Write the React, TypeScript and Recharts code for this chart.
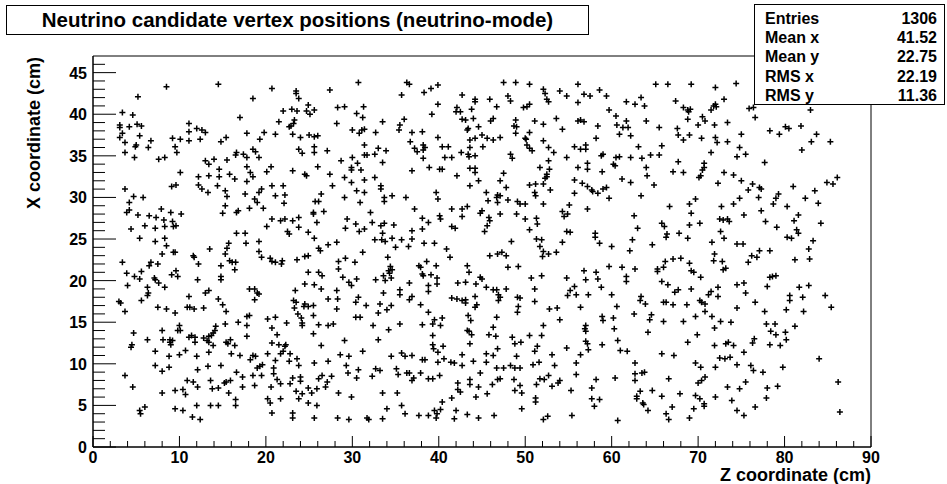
import React from 'react';
import { ScatterChart, Scatter, XAxis, YAxis, ReferenceArea } from 'recharts';

type Pt = [number, number];

// vertex positions as [z, x] in cm, grouped by region of the detector
const topZ0: Pt[] = [
  [8.5,43.3],[14.5,43.6],[20.7,43.1],[5.2,42.1],[18.5,41.9],[3.4,40.2],[4.6,39.9],[22.0,40.4],[17.0,39.6],[21.5,39.1],
  [3.1,38.7],[3.1,38.4],[4.2,38.5],[5.1,38.8],[5.6,38.6],[11.1,38.9],[11.1,37.9],[12.0,38.3],[12.6,38.1],[13.0,37.8],
  [17.8,37.7],[19.8,37.8],[21.1,37.6],[3.4,37.7],[3.1,37.2],[5.4,37.4],[9.2,37.1],[10.1,37.0],[11.1,36.8],[12.4,37.0],
  [14.8,36.7],[15.4,37.2],[19.3,37.0],[3.7,36.6],[6.7,36.8],[5.0,36.3],[4.9,36.1],[6.4,36.0],[9.5,36.1],[9.7,35.4],
  [3.7,35.4],[4.8,34.8],[7.6,34.6],[8.3,34.8],[16.6,35.4],[16.5,35.1],[17.4,35.2],[17.8,34.8],[18.5,35.8],[18.8,35.5],
  [19.2,34.8],[13.0,34.4],[13.4,34.0],[14.0,34.6],[15.5,34.5],[10.1,33.0],[14.6,33.4],[17.8,33.7],[18.2,33.0],[20.1,33.1],
  [20.6,33.7],[12.2,32.5],[13.4,32.6],[14.6,32.5],[15.8,32.8],[16.4,32.2],[17.8,31.9],[18.5,32.5],[3.7,31.0],[9.1,31.3],
  [9.6,31.5],[12.2,31.5],[12.6,31.0],[13.3,30.6],[14.4,31.4],[15.3,30.8],[19.5,31.0],[19.2,30.6],[20.7,31.4],[22.0,31.4],
  [4.7,30.1],[5.8,30.0],[15.5,30.1],[17.6,30.4],[18.7,29.8],[19.0,29.4],[21.1,30.2],[22.2,30.3],[4.2,29.4],[4.2,28.5],
  [3.9,28.2],[7.9,28.6],[9.0,28.2],[10.2,28.0],[6.5,27.8],[5.2,27.9],[7.3,27.6],[8.2,27.3],[9.2,27.1],[9.3,26.5],
  [9.6,26.6],[8.3,26.5],[15.0,28.1],[15.3,29.0],[16.6,28.2],[16.8,28.4],[18.1,28.7],[19.7,28.7],[22.1,29.3],[4.4,26.2],
  [6.0,26.6],[7.2,26.3],[20.7,27.4],[21.7,27.2],[22.2,27.4],[20.1,26.5],[16.6,25.7],[17.6,25.7],
];

const topZ22: Pt[] = [
  [30.7,43.8],[36.3,43.8],[36.6,43.6],[39.9,43.5],[39.1,43.1],[38.3,42.6],[35.7,42.3],[42.7,42.3],[23.5,42.8],[23.5,42.5],
  [23.8,41.9],[27.4,42.9],[44.2,41.8],[44.2,41.5],[24.9,41.1],[23.0,40.6],[23.6,40.4],[24.7,40.4],[25.1,40.0],[25.6,40.5],
  [28.3,40.8],[29.1,40.9],[31.3,40.9],[30.5,40.1],[31.2,39.6],[42.1,40.8],[42.0,40.3],[42.5,40.3],[43.8,40.6],[44.0,39.5],
  [42.7,39.4],[43.1,39.3],[39.9,41.2],[39.2,40.0],[23.3,39.3],[23.2,38.9],[22.7,38.5],[22.9,38.6],[28.2,38.9],[33.5,39.1],
  [36.0,39.4],[35.5,38.7],[35.4,38.1],[30.0,38.1],[30.8,37.7],[31.1,38.1],[31.4,38.2],[32.7,37.8],[44.6,38.5],[43.4,38.3],
  [43.3,38.1],[23.1,37.6],[24.0,37.2],[25.0,37.5],[25.6,37.3],[26.0,37.4],[36.9,37.8],[38.1,37.9],[36.7,36.7],[39.9,37.2],
  [43.6,36.9],[44.2,37.1],[23.8,35.8],[24.2,35.3],[25.6,36.1],[25.6,35.4],[27.1,35.6],[31.4,36.3],[31.4,35.1],[31.7,35.1],
  [32.6,35.2],[33.0,35.9],[33.9,35.6],[37.2,35.9],[37.5,35.5],[38.2,36.3],[38.4,36.0],[38.2,35.7],[38.2,34.7],[40.4,36.1],
  [41.1,36.1],[43.6,36.0],[40.7,34.8],[41.5,34.8],[42.6,35.4],[43.4,35.2],[43.5,34.9],[44.2,35.0],[28.7,34.4],[30.0,34.8],
  [30.6,34.1],[29.9,33.6],[29.9,33.3],[31.0,33.3],[33.5,34.2],[23.1,33.2],[24.5,32.8],[24.7,32.6],[26.0,33.7],[36.9,33.2],
  [38.9,33.6],[40.1,33.4],[40.4,33.4],[43.6,33.5],[44.2,33.5],[44.2,33.0],[42.1,32.6],[27.4,32.8],[29.1,32.4],[29.9,31.8],
  [31.4,32.1],[32.6,32.4],[30.5,30.8],[31.4,30.6],[33.3,31.4],[33.3,31.0],[27.7,31.4],[43.6,31.4],[44.6,32.0],[29.1,30.0],
  [33.7,30.0],[33.7,29.5],[34.6,30.2],[36.2,30.0],[39.7,30.6],[39.9,29.8],[25.7,29.5],[26.1,29.5],[26.4,30.4],[30.9,29.4],
  [25.5,28.2],[25.5,28.0],[26.7,28.3],[23.8,27.6],[23.1,27.2],[32.1,28.2],[37.2,28.6],[41.5,28.6],[42.7,28.6],[43.3,28.9],
  [42.7,27.7],[44.8,28.1],[25.9,27.0],[29.4,27.4],[30.4,26.8],[31.4,26.2],[30.8,25.9],[29.2,26.3],[32.3,27.0],[33.3,26.6],
  [33.7,26.9],[34.8,26.7],[38.1,27.5],[38.8,27.0],[40.1,27.8],[40.2,27.4],[41.5,26.5],[41.9,26.3],[23.8,26.4],[22.5,25.9],
  [22.7,25.6],[24.9,25.8],[33.5,25.7],[36.9,26.0],[38.1,26.2],
];

const topZ45: Pt[] = [
  [47.5,43.8],[48.9,43.8],[50.5,43.6],[56.1,43.6],[65.1,43.6],[66.5,43.6],[52.1,43.0],[54.0,42.8],[58.6,42.9],[45.9,41.8],
  [48.0,42.2],[48.3,41.6],[52.3,42.5],[52.5,41.8],[52.7,41.5],[54.8,42.2],[56.8,42.4],[57.5,42.2],[59.4,42.2],[56.1,41.4],
  [61.7,41.5],[62.7,41.2],[63.4,42.0],[63.8,41.0],[67.4,41.6],[46.7,40.9],[49.8,40.8],[50.2,40.9],[50.5,41.2],[59.7,40.5],
  [46.3,39.5],[46.0,39.2],[48.9,39.3],[48.7,38.6],[49.0,38.5],[48.9,37.7],[51.1,39.2],[52.1,38.8],[53.6,39.5],[56.1,39.2],
  [56.4,39.3],[56.8,39.1],[54.3,38.2],[58.4,38.6],[60.5,39.8],[61.7,39.2],[60.6,38.7],[61.3,38.4],[61.9,38.4],[64.0,39.2],
  [65.5,38.4],[45.0,37.5],[45.6,37.1],[46.3,36.9],[47.1,37.2],[50.5,37.8],[50.0,37.1],[50.1,37.0],[52.1,36.8],[60.9,37.6],
  [62.2,37.4],[58.2,37.1],[45.1,36.1],[50.2,36.3],[50.5,35.9],[50.8,35.6],[52.7,36.0],[53.3,35.4],[55.7,36.1],[56.4,35.8],
  [57.0,36.3],[57.0,35.8],[63.1,36.1],[65.8,36.2],[48.3,35.2],[48.5,34.7],[54.8,34.8],[58.8,35.0],[59.0,35.2],[60.5,34.8],
  [60.9,34.9],[62.2,34.8],[63.5,34.7],[64.5,35.1],[65.5,35.1],[52.7,34.4],[51.7,33.6],[52.8,33.4],[52.5,32.8],[52.5,32.5],
  [52.3,32.3],[56.1,33.6],[57.2,34.1],[57.2,33.4],[58.9,33.1],[60.2,34.0],[60.4,33.8],[64.0,33.6],[64.1,32.6],[67.1,33.1],
  [47.5,32.9],[47.1,32.0],[47.8,31.2],[45.5,30.6],[46.8,30.3],[46.7,30.0],[47.1,30.2],[45.7,29.6],[46.8,29.4],[48.0,29.7],
  [50.5,31.5],[51.2,31.6],[51.1,30.6],[51.2,30.2],[52.1,31.6],[52.9,30.9],[55.7,32.1],[56.6,31.7],[57.2,31.3],[57.7,30.9],
  [57.8,30.7],[58.4,30.5],[59.0,31.0],[59.4,31.2],[59.7,29.9],[61.2,32.2],[62.2,31.8],[64.9,31.5],[63.4,30.2],[55.7,30.5],
  [45.0,28.4],[45.8,27.6],[45.9,27.2],[45.6,26.6],[45.3,25.9],[47.1,28.0],[49.0,28.0],[49.1,29.5],[49.4,29.2],[50.0,29.2],
  [52.1,29.2],[50.0,27.4],[51.3,27.5],[51.4,26.8],[50.5,26.1],[54.3,28.3],[54.5,27.7],[54.9,28.0],[55.1,29.1],[57.2,28.6],
  [54.8,25.9],[55.2,25.8],[58.1,25.7],[62.6,27.8],[63.0,26.3],[65.8,26.9],[66.1,26.5],[66.7,28.9],[66.4,25.6],
];

const topZ67: Pt[] = [
  [69.2,43.6],[72.0,43.2],[74.4,43.7],[68.3,40.8],[68.8,40.5],[68.9,40.3],[69.1,40.6],[68.8,39.4],[70.5,39.7],[70.8,39.2],
  [70.0,38.7],[71.5,40.5],[71.8,41.0],[72.0,41.2],[72.1,40.9],[73.0,41.8],[75.9,40.7],[76.4,40.8],[76.6,39.6],[73.4,39.0],
  [71.9,38.7],[83.0,40.5],[67.6,38.3],[67.7,37.5],[68.3,36.9],[69.0,37.5],[70.4,37.1],[72.0,37.2],[72.2,36.6],[73.4,36.7],
  [75.0,37.6],[78.3,38.0],[79.4,37.6],[80.1,38.5],[80.5,38.3],[81.9,38.6],[83.7,37.6],[83.1,36.7],[85.3,36.7],[82.0,35.7],
  [74.8,36.0],[75.5,35.2],[74.5,34.9],[71.5,35.4],[77.7,34.2],[67.7,34.3],[70.7,34.1],[70.7,33.6],[70.5,33.3],[70.1,32.4],
  [70.3,32.6],[68.3,33.0],[73.0,33.0],[74.1,32.7],[75.0,32.0],[72.3,31.7],[76.3,31.6],[75.8,30.9],[77.1,31.2],[77.3,31.0],
  [77.0,30.0],[81.0,31.3],[84.9,31.8],[85.6,31.6],[86.1,32.4],[83.5,30.8],[82.4,29.9],[79.0,29.9],[79.3,30.4],[78.7,29.2],
  [80.3,28.9],[83.9,29.3],[81.6,27.9],[81.1,27.2],[84.2,26.9],[81.4,26.1],[81.6,25.7],[69.0,29.2],[69.7,29.8],[69.2,28.1],
  [69.0,26.7],[70.2,26.9],[72.7,28.9],[74.1,29.2],[74.8,29.9],[75.3,27.9],[77.3,28.4],[72.5,27.4],[72.9,27.3],[73.4,27.4],
  [73.6,27.1],[77.8,27.1],[79.1,26.4],[72.6,25.9],[67.8,25.7],
];

const botZ0: Pt[] = [
  [5.4,25.1],[7.2,24.7],[8.3,25.1],[15.7,24.5],[17.7,24.5],[19.2,24.7],[3.4,22.2],[6.5,21.8],[6.7,22.2],[7.5,22.0],
  [8.0,23.2],[8.5,24.2],[9.3,23.4],[9.5,23.4],[11.6,23.0],[11.7,22.8],[12.2,22.0],[13.5,23.8],[15.3,23.2],[15.5,23.9],
  [15.8,22.4],[16.1,22.2],[16.5,22.2],[16.4,21.3],[19.2,23.5],[19.5,22.8],[20.5,22.7],[20.7,22.3],[21.1,22.2],[21.9,22.4],
  [21.8,22.0],[3.9,20.9],[4.8,20.5],[5.4,20.2],[5.6,21.1],[7.1,20.3],[7.2,20.1],[7.6,19.7],[8.3,19.2],[9.1,20.7],
  [9.6,21.2],[9.8,20.5],[12.1,20.1],[14.8,21.8],[14.8,20.5],[14.8,20.1],[4.0,19.4],[6.3,19.2],[6.4,18.5],[6.3,18.2],
  [5.6,17.6],[7.5,16.8],[8.5,16.6],[9.5,16.1],[11.1,18.1],[10.9,16.8],[11.2,16.8],[11.7,16.6],[12.8,16.7],[13.0,18.5],
  [13.4,18.8],[14.5,17.8],[15.0,17.1],[15.4,16.3],[18.1,19.0],[18.7,19.0],[19.0,18.5],[19.2,18.4],[18.7,17.7],[3.0,17.5],
  [3.2,17.3],[3.7,16.3],[4.7,13.7],[4.5,12.3],[4.4,12.0],[6.3,12.9],[8.0,14.0],[8.1,12.9],[8.9,12.9],[8.9,12.6],
  [9.0,12.3],[9.2,12.8],[9.8,14.0],[10.1,14.0],[10.0,14.6],[11.1,13.2],[11.4,13.4],[11.8,13.2],[11.8,12.6],[12.8,13.1],
  [13.2,12.8],[13.4,13.3],[13.4,12.6],[13.7,13.4],[13.9,13.7],[14.1,14.0],[14.2,14.5],[13.9,12.2],[15.3,14.8],[16.8,15.0],
  [17.8,14.6],[17.8,13.3],[17.8,15.7],[18.1,15.8],[20.2,15.4],[20.7,14.3],[21.1,15.6],[21.3,13.5],[15.4,12.6],[15.6,12.4],
  [15.9,12.9],[16.4,12.2],[7.2,11.5],[8.8,10.9],[10.0,11.1],[10.7,11.6],[12.0,10.9],[13.4,11.4],[16.0,11.2],[17.0,11.0],
  [18.2,10.5],[18.5,11.0],[18.8,10.9],[19.0,9.5],[19.3,9.7],[19.6,9.9],[20.2,11.2],[20.7,12.5],[21.1,10.4],[21.5,12.3],
  [22.0,11.5],[22.2,12.1],[21.7,11.2],[3.7,8.6],[7.2,9.8],[8.0,9.1],[8.8,9.6],[12.1,9.3],[13.3,9.7],[14.8,9.8],
  [16.6,9.0],[17.3,8.4],[18.5,8.6],[19.5,8.6],[20.9,9.5],[20.9,8.8],[21.3,8.1],[21.7,7.6],[4.6,7.2],[8.0,6.5],
  [9.5,6.8],[10.4,6.9],[10.7,6.3],[10.9,8.0],[11.6,7.8],[12.1,7.2],[13.6,8.0],[13.8,7.0],[14.5,7.1],[15.2,7.7],
  [15.4,7.8],[15.9,8.0],[15.7,6.5],[16.5,5.7],[16.5,5.0],[17.3,7.2],[18.7,7.4],[20.2,5.8],[20.5,5.3],[20.7,4.1],
  [21.7,5.8],[20.6,7.2],[5.4,4.4],[5.5,4.0],[6.0,4.8],[9.5,4.6],[10.4,4.4],[12.0,5.0],[13.6,5.0],[14.5,5.0],
  [11.5,3.6],[12.4,3.3],
];

const botZ22: Pt[] = [
  [25.6,25.1],[27.2,24.3],[28.2,24.6],[26.1,23.9],[26.3,23.6],[32.6,24.9],[33.4,24.9],[33.8,24.7],[34.6,25.1],[35.7,24.9],
  [36.9,25.0],[38.3,24.5],[39.5,24.5],[35.0,24.0],[36.5,24.1],[31.2,23.4],[40.9,23.8],[41.3,22.8],[23.6,22.5],[24.5,22.9],
  [24.9,23.0],[28.4,22.3],[28.4,21.4],[29.2,22.7],[30.3,22.2],[34.1,22.8],[34.4,21.7],[34.6,21.3],[34.2,21.2],[34.3,20.9],
  [33.6,20.6],[34.5,20.3],[32.7,20.1],[33.8,20.0],[37.7,21.8],[37.9,21.6],[38.6,22.3],[38.1,20.8],[38.2,20.6],[39.1,20.7],
  [39.7,21.8],[39.8,20.3],[39.8,19.6],[38.8,19.4],[38.8,18.7],[43.3,21.8],[43.5,21.0],[43.1,19.8],[42.2,19.7],[44.3,19.6],
  [44.8,20.4],[24.9,21.0],[26.1,21.0],[26.5,20.6],[24.5,19.6],[25.6,19.5],[26.4,19.0],[28.9,20.4],[29.6,19.8],[29.9,19.4],
  [30.5,20.2],[23.4,18.8],[28.2,18.8],[33.6,18.5],[35.5,18.9],[35.5,18.3],[36.6,19.7],[36.9,18.1],[36.6,17.7],[30.7,18.0],
  [30.4,17.4],[31.6,17.0],[33.2,17.2],[27.2,17.8],[28.3,17.8],[28.2,16.6],[25.5,17.0],[24.9,16.9],[24.5,17.2],[24.4,16.9],
  [23.2,17.6],[23.5,17.4],[23.3,16.7],[34.5,17.0],[34.0,16.5],[33.0,16.1],[30.4,15.6],[30.9,15.6],[37.9,17.1],[38.8,16.2],
  [41.5,17.9],[42.1,17.8],[42.7,17.6],[43.1,17.3],[43.1,17.7],[44.2,18.1],[44.4,17.1],[44.2,16.8],[23.7,16.0],[24.1,15.5],
  [24.2,14.9],[24.2,14.6],[25.5,15.8],[26.1,14.7],[27.2,14.6],[27.8,14.8],[22.4,14.9],[25.5,13.6],[32.4,14.6],[34.2,14.1],
  [35.5,14.8],[38.1,14.7],[39.3,14.8],[39.5,15.3],[40.4,15.5],[40.2,14.6],[39.3,13.4],[43.4,15.8],[43.7,15.2],[43.3,14.0],
  [43.5,13.9],[43.8,13.5],[43.6,12.4],[22.3,12.3],[22.8,11.2],[23.6,10.6],[23.8,9.8],[22.7,10.3],[26.4,12.2],[29.1,12.8],
  [33.0,12.9],[31.2,11.5],[28.6,11.1],[29.6,10.9],[29.3,9.8],[30.7,9.3],[29.5,8.9],[30.5,8.3],[32.3,8.5],[32.7,9.4],
  [33.2,9.2],[25.6,10.1],[27.2,10.3],[34.5,10.9],[35.7,11.3],[36.1,10.9],[36.9,11.0],[35.1,9.4],[35.3,8.7],[36.3,8.9],
  [36.6,8.9],[37.1,8.3],[36.9,8.0],[37.9,8.9],[38.1,10.5],[38.4,10.5],[38.8,8.2],[39.3,8.2],[39.3,12.3],[39.4,11.8],
  [40.5,12.1],[39.9,11.4],[39.9,10.2],[40.1,8.6],[40.6,10.6],[41.4,10.2],[41.8,10.1],[42.7,9.8],[42.7,11.1],[44.0,10.3],
  [44.8,8.9],[23.1,8.3],[24.0,8.4],[24.0,7.9],[22.8,7.6],[26.1,8.2],[26.5,8.6],[27.1,7.8],[26.9,7.2],[27.6,8.5],
  [24.9,7.1],[25.9,7.0],[23.5,6.7],[24.2,6.4],[23.8,5.8],[24.9,5.3],[25.9,5.0],[25.3,6.5],[28.4,6.5],[29.9,6.0],
  [33.5,6.5],[35.2,6.5],[35.7,5.0],[34.0,4.6],[36.1,4.0],[37.7,3.8],[38.8,3.8],[39.5,4.4],[39.8,4.0],[40.2,4.5],
  [40.4,5.4],[41.5,5.9],[42.2,6.9],[42.5,6.6],[42.2,7.7],[43.6,8.1],[43.6,7.5],[44.6,7.2],[44.3,6.0],[42.0,4.4],
  [43.3,3.9],[44.6,3.5],[41.8,3.4],[39.7,3.5],[23.1,4.1],[23.1,3.5],[25.6,3.5],[28.3,3.5],[29.6,3.3],[31.7,3.5],
  [31.9,3.3],[33.5,3.4],
];

const botZ45: Pt[] = [
  [48.4,24.7],[51.3,25.0],[51.9,24.9],[54.3,24.6],[58.1,25.2],[58.6,24.5],[60.0,24.1],[62.4,24.9],[62.1,23.6],[64.7,24.3],
  [66.3,25.2],[51.7,24.1],[52.1,23.5],[52.0,22.9],[52.7,23.2],[53.6,23.4],[45.9,23.0],[46.8,23.2],[47.3,23.4],[47.8,23.0],
  [48.0,21.6],[49.2,21.7],[50.7,20.3],[51.9,20.6],[51.1,19.0],[51.1,17.5],[54.8,20.3],[55.2,18.8],[55.7,19.3],[54.9,18.2],
  [55.9,18.3],[57.3,18.3],[56.8,21.2],[57.0,20.1],[58.2,21.0],[58.4,20.2],[58.8,19.2],[59.7,21.7],[61.2,21.6],[61.7,20.5],
  [61.7,19.9],[62.7,21.4],[65.3,21.4],[65.3,21.1],[66.0,21.6],[66.2,22.3],[67.1,22.6],[65.8,19.9],[66.5,19.5],[67.3,18.6],
  [60.0,18.3],[60.6,16.9],[63.4,18.1],[63.3,17.6],[63.9,17.2],[62.6,16.0],[64.6,15.9],[64.4,15.3],[66.0,17.4],[66.3,17.4],
  [67.1,17.1],[66.0,15.1],[45.0,20.2],[45.5,19.2],[46.3,18.9],[46.7,18.9],[46.9,18.3],[46.9,17.6],[47.1,18.0],[47.8,19.0],
  [49.1,18.0],[49.4,17.9],[49.2,16.9],[49.1,16.2],[52.8,16.6],[53.7,16.7],[54.0,15.3],[56.4,16.8],[58.9,15.7],[59.0,15.2],
  [60.2,15.5],[46.7,15.6],[46.3,14.4],[45.8,13.5],[46.6,13.3],[48.5,13.2],[48.8,12.4],[49.5,12.6],[50.5,13.4],[51.9,13.4],
  [52.1,14.6],[54.8,11.9],[57.0,14.6],[56.9,14.2],[57.0,13.9],[57.0,12.7],[57.2,12.4],[57.3,11.7],[56.4,11.1],[58.9,12.3],
  [60.7,12.8],[60.3,14.2],[61.0,11.6],[61.8,11.5],[64.2,13.8],[65.8,11.2],[67.2,11.0],[45.5,11.2],[46.3,11.0],[46.8,11.8],
  [45.5,10.2],[46.7,9.5],[47.5,9.5],[48.3,9.8],[48.8,9.5],[49.4,9.5],[49.0,10.9],[51.1,11.5],[51.4,12.1],[50.9,9.9],
  [51.6,10.2],[53.1,11.1],[53.4,9.8],[55.9,10.1],[55.9,8.7],[46.8,8.1],[47.1,8.2],[46.2,7.5],[45.6,6.4],[48.7,8.1],
  [49.4,7.4],[48.8,6.8],[49.6,6.5],[51.3,7.5],[51.7,8.2],[52.2,8.1],[52.7,8.6],[53.1,7.3],[53.8,7.7],[54.0,8.0],
  [55.3,6.8],[57.7,7.1],[57.7,5.8],[58.6,5.7],[58.2,8.1],[58.0,4.9],[60.4,8.3],[62.7,10.1],[62.7,8.8],[62.7,8.0],
  [63.5,8.9],[63.8,9.0],[63.3,6.7],[62.9,6.1],[62.9,5.8],[63.6,5.3],[63.7,5.1],[64.2,4.4],[64.7,6.8],[65.8,6.1],
  [66.6,8.2],[67.0,4.8],[66.3,4.0],[66.6,3.3],[46.4,3.8],[49.6,4.6],[51.2,5.9],[51.2,5.4],[52.1,3.3],[52.6,3.7],
  [55.4,3.8],[60.7,3.2],
];

const botZ67: Pt[] = [
  [68.8,25.1],[71.6,24.6],[73.0,25.1],[74.5,24.4],[75.2,24.4],[80.3,25.2],[80.8,25.1],[83.3,24.8],[82.8,23.8],[82.9,22.6],
  [81.2,22.5],[77.1,23.6],[78.3,23.6],[76.2,23.0],[76.8,22.8],[75.8,22.2],[71.9,23.2],[71.8,22.4],[72.8,22.3],[73.2,21.5],
  [72.9,21.3],[68.0,22.7],[69.0,22.1],[69.2,21.2],[69.5,21.0],[70.3,20.4],[67.7,18.9],[69.2,19.0],[71.5,18.7],[71.2,18.3],
  [72.3,19.2],[72.3,18.1],[74.5,19.5],[75.3,19.7],[75.5,18.5],[78.0,19.3],[78.3,20.4],[78.6,20.5],[79.0,20.6],[81.7,19.2],
  [82.8,19.4],[80.6,18.2],[80.6,17.6],[82.1,18.0],[84.7,18.2],[85.4,16.8],[82.2,16.3],[80.2,16.5],[77.7,16.3],[76.6,17.4],
  [74.5,16.7],[68.7,17.1],[70.2,17.6],[70.4,17.4],[70.8,17.2],[70.8,16.3],[69.7,15.7],[71.6,15.7],[68.3,15.1],[71.9,14.3],
  [72.6,15.1],[73.8,15.0],[77.9,14.8],[78.9,14.8],[78.4,13.9],[79.0,13.5],[80.1,13.8],[81.2,14.5],[78.3,12.3],[79.5,12.2],
  [80.2,12.9],[76.5,13.0],[76.3,12.5],[75.3,11.4],[69.9,13.5],[68.8,12.6],[71.9,12.2],[73.2,12.4],[73.5,12.6],[74.1,12.2],
  [72.5,10.7],[73.1,10.6],[73.7,10.8],[69.7,10.1],[70.3,9.6],[72.0,9.6],[74.5,9.9],[76.1,9.8],[76.4,9.2],[77.5,9.0],
  [79.8,9.6],[84.0,10.6],[67.9,6.4],[69.7,6.2],[70.2,5.8],[70.0,7.7],[70.4,8.0],[70.8,8.4],[70.7,5.2],[70.7,4.9],
  [69.5,4.6],[69.0,3.5],[72.0,6.0],[73.4,7.2],[74.8,7.0],[75.5,7.8],[73.9,5.6],[78.0,7.1],[79.2,7.3],[77.9,5.9],
  [76.6,4.8],[74.5,4.4],[75.3,3.8],[86.2,7.8],[86.4,4.2],
];

const vertices = [...topZ0, ...topZ22, ...topZ45, ...topZ67, ...botZ0, ...botZ22, ...botZ45, ...botZ67]
  .map(([z, x]) => ({ z, x }));

// major ticks every 10 cm on Z, every 5 cm on X; the rest are minor
const zTicks = [0,2,4,6,8,10,12,14,16,18,20,22,24,26,28,30,32,34,36,38,40,42,44,46,48,50,52,54,56,58,60,62,64,66,68,70,72,74,76,78,80,82,84,86,88,90];
const xTicks = [0,1,2,3,4,5,6,7,8,9,10,11,12,13,14,15,16,17,18,19,20,21,22,23,24,25,26,27,28,29,30,31,32,33,34,35,36,37,38,39,40,41,42,43,44,45,46];

const statRows = [
  ['Entries', '1306'],
  ['Mean x', '41.52'],
  ['Mean y', '22.75'],
  ['RMS x', '22.19'],
  ['RMS y', '11.36'],
];

const FONT = '"Liberation Sans", Arial, Helvetica, sans-serif';

const Cross = (props: any) => {
  const { cx, cy } = props;
  if (cx == null || cy == null) return null;
  return (
    <path
      d={`M${cx - 3},${cy}H${cx + 3}M${cx},${cy - 3}V${cy + 3}`}
      stroke="#000"
      strokeWidth={1.5}
      fill="none"
    />
  );
};

const ZTick = (props: any) => {
  const { x, y, payload } = props;
  const major = payload.value % 10 === 0;
  return (
    <g>
      <line x1={x} x2={x} y1={y} y2={y - (major ? 11 : 6)} stroke="#000" />
      {major && (
        <text x={x} y={y + 16} textAnchor="middle" fontFamily={FONT} fontWeight="bold" fontSize={16} fill="#000">
          {payload.value}
        </text>
      )}
    </g>
  );
};

const XTick = (props: any) => {
  const { x, y, payload } = props;
  const major = payload.value % 5 === 0;
  return (
    <g>
      <line x1={x} x2={x + (major ? 23 : 12)} y1={y} y2={y} stroke="#000" />
      {major && (
        <text x={x - 6} y={y} dy={6} textAnchor="end" fontFamily={FONT} fontWeight="bold" fontSize={16} fill="#000">
          {payload.value}
        </text>
      )}
    </g>
  );
};

export default function App() {
  return (
    <div style={{ position: 'fixed', left: 0, top: 0, width: 947, height: 484, background: '#fff', fontFamily: FONT }}>
      <ScatterChart width={947} height={484} margin={{ top: 56, right: 76, bottom: 7, left: 33 }}>
        <XAxis
          type="number"
          dataKey="z"
          domain={[0, 90]}
          ticks={zTicks}
          interval={0}
          tickSize={0}
          tickMargin={0}
          tick={<ZTick />}
          height={30}
          stroke="#000"
          allowDataOverflow
        />
        <YAxis
          type="number"
          dataKey="x"
          domain={[0, 47]}
          ticks={xTicks}
          interval={0}
          tickSize={0}
          tickMargin={0}
          tick={<XTick />}
          width={60}
          stroke="#000"
          allowDataOverflow
        />
        <ReferenceArea x1={0} x2={90} y1={0} y2={47} fill="none" stroke="#000" strokeWidth={1} />
        <Scatter data={vertices} shape={<Cross />} isAnimationActive={false} />
      </ScatterChart>

      {/* axis titles */}
      <svg width={947} height={484} style={{ position: 'absolute', left: 0, top: 0, pointerEvents: 'none' }}>
        <text
          transform="translate(40,57) rotate(-90)"
          textAnchor="end"
          fontFamily={FONT}
          fontWeight="bold"
          fontSize={18}
          fill="#000"
        >
          X coordinate (cm)
        </text>
        <text x={871} y={481} textAnchor="end" fontFamily={FONT} fontWeight="bold" fontSize={18} fill="#000">
          Z coordinate (cm)
        </text>
      </svg>

      <div style={{
        position: 'absolute', left: 6, top: 5, width: 583, height: 30, border: '1px solid #000',
        boxSizing: 'border-box', background: '#fff', display: 'flex', alignItems: 'center', justifyContent: 'center',
        fontWeight: 'bold', fontSize: 20.5, whiteSpace: 'nowrap',
      }}>
        Neutrino candidate vertex positions (neutrino-mode)
      </div>

      <div style={{
        position: 'absolute', left: 754, top: 4, width: 191, height: 101, border: '1px solid #000',
        boxSizing: 'border-box', background: '#fff', fontWeight: 'bold', fontSize: 16, padding: '4px 7px 0 10px',
      }}>
        {statRows.map(([k, v]) => (
          <div key={k} style={{ display: 'flex', justifyContent: 'space-between', height: 19.2, lineHeight: '19.2px' }}>
            <span>{k}</span>
            <span>{v}</span>
          </div>
        ))}
      </div>
    </div>
  );
}
